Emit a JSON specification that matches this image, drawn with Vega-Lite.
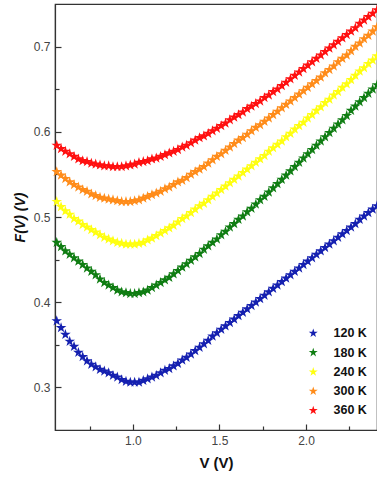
{
"$schema": "https://vega.github.io/schema/vega-lite/v6.json",
"width": 322,
"height": 426,
"autosize": {"type": "none"},
"padding": {"left": 55, "top": 4, "right": 0, "bottom": 47},
"background": "white",
"config": {
  "font": "Liberation Sans",
  "view": {"stroke": "#333", "strokeWidth": 1.2},
  "axis": {"domainColor": "#333", "tickColor": "#333", "labelColor": "#444", "labelFontSize": 12, "titleFontSize": 14, "titleFontWeight": "bold", "titleColor": "#111", "grid": false, "domainWidth": 1.2, "tickWidth": 1.2}
},
"data": {"values": [
{"T":"120 K","V":0.56,"F":0.378},{"T":"120 K","V":0.585,"F":0.370},{"T":"120 K","V":0.61,"F":0.362},{"T":"120 K","V":0.635,"F":0.354},{"T":"120 K","V":0.66,"F":0.348},{"T":"120 K","V":0.685,"F":0.341},{"T":"120 K","V":0.71,"F":0.336},{"T":"120 K","V":0.735,"F":0.331},{"T":"120 K","V":0.76,"F":0.327},{"T":"120 K","V":0.785,"F":0.324},{"T":"120 K","V":0.81,"F":0.321},{"T":"120 K","V":0.835,"F":0.319},{"T":"120 K","V":0.86,"F":0.317},{"T":"120 K","V":0.885,"F":0.314},{"T":"120 K","V":0.91,"F":0.312},{"T":"120 K","V":0.935,"F":0.309},{"T":"120 K","V":0.96,"F":0.307},{"T":"120 K","V":0.985,"F":0.306},{"T":"120 K","V":1.01,"F":0.306},{"T":"120 K","V":1.035,"F":0.306},{"T":"120 K","V":1.06,"F":0.308},{"T":"120 K","V":1.085,"F":0.310},{"T":"120 K","V":1.11,"F":0.312},{"T":"120 K","V":1.135,"F":0.314},{"T":"120 K","V":1.16,"F":0.317},{"T":"120 K","V":1.185,"F":0.320},{"T":"120 K","V":1.21,"F":0.322},{"T":"120 K","V":1.235,"F":0.325},{"T":"120 K","V":1.26,"F":0.328},{"T":"120 K","V":1.285,"F":0.332},{"T":"120 K","V":1.31,"F":0.335},{"T":"120 K","V":1.335,"F":0.339},{"T":"120 K","V":1.36,"F":0.343},{"T":"120 K","V":1.385,"F":0.347},{"T":"120 K","V":1.41,"F":0.351},{"T":"120 K","V":1.435,"F":0.355},{"T":"120 K","V":1.46,"F":0.360},{"T":"120 K","V":1.485,"F":0.364},{"T":"120 K","V":1.51,"F":0.368},{"T":"120 K","V":1.535,"F":0.372},{"T":"120 K","V":1.56,"F":0.376},{"T":"120 K","V":1.585,"F":0.380},{"T":"120 K","V":1.61,"F":0.384},{"T":"120 K","V":1.635,"F":0.388},{"T":"120 K","V":1.66,"F":0.392},{"T":"120 K","V":1.685,"F":0.396},{"T":"120 K","V":1.71,"F":0.400},{"T":"120 K","V":1.735,"F":0.404},{"T":"120 K","V":1.76,"F":0.408},{"T":"120 K","V":1.785,"F":0.412},{"T":"120 K","V":1.81,"F":0.416},{"T":"120 K","V":1.835,"F":0.420},{"T":"120 K","V":1.86,"F":0.424},{"T":"120 K","V":1.885,"F":0.428},{"T":"120 K","V":1.91,"F":0.432},{"T":"120 K","V":1.935,"F":0.436},{"T":"120 K","V":1.96,"F":0.440},{"T":"120 K","V":1.985,"F":0.444},{"T":"120 K","V":2.01,"F":0.448},{"T":"120 K","V":2.035,"F":0.452},{"T":"120 K","V":2.06,"F":0.456},{"T":"120 K","V":2.085,"F":0.460},{"T":"120 K","V":2.11,"F":0.464},{"T":"120 K","V":2.135,"F":0.468},{"T":"120 K","V":2.16,"F":0.472},{"T":"120 K","V":2.185,"F":0.476},{"T":"120 K","V":2.21,"F":0.480},{"T":"120 K","V":2.235,"F":0.484},{"T":"120 K","V":2.26,"F":0.488},{"T":"120 K","V":2.285,"F":0.492},{"T":"120 K","V":2.31,"F":0.497},{"T":"120 K","V":2.335,"F":0.501},{"T":"120 K","V":2.36,"F":0.505},{"T":"120 K","V":2.385,"F":0.509},{"T":"120 K","V":2.41,"F":0.513},
{"T":"180 K","V":0.56,"F":0.470},{"T":"180 K","V":0.585,"F":0.465},{"T":"180 K","V":0.61,"F":0.460},{"T":"180 K","V":0.635,"F":0.456},{"T":"180 K","V":0.66,"F":0.452},{"T":"180 K","V":0.685,"F":0.448},{"T":"180 K","V":0.71,"F":0.444},{"T":"180 K","V":0.735,"F":0.440},{"T":"180 K","V":0.76,"F":0.436},{"T":"180 K","V":0.785,"F":0.432},{"T":"180 K","V":0.81,"F":0.427},{"T":"180 K","V":0.835,"F":0.423},{"T":"180 K","V":0.86,"F":0.420},{"T":"180 K","V":0.885,"F":0.417},{"T":"180 K","V":0.91,"F":0.414},{"T":"180 K","V":0.935,"F":0.412},{"T":"180 K","V":0.96,"F":0.411},{"T":"180 K","V":0.985,"F":0.410},{"T":"180 K","V":1.01,"F":0.410},{"T":"180 K","V":1.035,"F":0.411},{"T":"180 K","V":1.06,"F":0.412},{"T":"180 K","V":1.085,"F":0.414},{"T":"180 K","V":1.11,"F":0.417},{"T":"180 K","V":1.135,"F":0.420},{"T":"180 K","V":1.16,"F":0.423},{"T":"180 K","V":1.185,"F":0.426},{"T":"180 K","V":1.21,"F":0.429},{"T":"180 K","V":1.235,"F":0.433},{"T":"180 K","V":1.26,"F":0.437},{"T":"180 K","V":1.285,"F":0.441},{"T":"180 K","V":1.31,"F":0.445},{"T":"180 K","V":1.335,"F":0.449},{"T":"180 K","V":1.36,"F":0.453},{"T":"180 K","V":1.385,"F":0.457},{"T":"180 K","V":1.41,"F":0.462},{"T":"180 K","V":1.435,"F":0.466},{"T":"180 K","V":1.46,"F":0.470},{"T":"180 K","V":1.485,"F":0.474},{"T":"180 K","V":1.51,"F":0.479},{"T":"180 K","V":1.535,"F":0.483},{"T":"180 K","V":1.56,"F":0.488},{"T":"180 K","V":1.585,"F":0.492},{"T":"180 K","V":1.61,"F":0.497},{"T":"180 K","V":1.635,"F":0.501},{"T":"180 K","V":1.66,"F":0.506},{"T":"180 K","V":1.685,"F":0.510},{"T":"180 K","V":1.71,"F":0.515},{"T":"180 K","V":1.735,"F":0.520},{"T":"180 K","V":1.76,"F":0.524},{"T":"180 K","V":1.785,"F":0.529},{"T":"180 K","V":1.81,"F":0.534},{"T":"180 K","V":1.835,"F":0.539},{"T":"180 K","V":1.86,"F":0.544},{"T":"180 K","V":1.885,"F":0.549},{"T":"180 K","V":1.91,"F":0.554},{"T":"180 K","V":1.935,"F":0.559},{"T":"180 K","V":1.96,"F":0.564},{"T":"180 K","V":1.985,"F":0.569},{"T":"180 K","V":2.01,"F":0.574},{"T":"180 K","V":2.035,"F":0.579},{"T":"180 K","V":2.06,"F":0.584},{"T":"180 K","V":2.085,"F":0.589},{"T":"180 K","V":2.11,"F":0.594},{"T":"180 K","V":2.135,"F":0.599},{"T":"180 K","V":2.16,"F":0.604},{"T":"180 K","V":2.185,"F":0.609},{"T":"180 K","V":2.21,"F":0.614},{"T":"180 K","V":2.235,"F":0.619},{"T":"180 K","V":2.26,"F":0.625},{"T":"180 K","V":2.285,"F":0.630},{"T":"180 K","V":2.31,"F":0.635},{"T":"180 K","V":2.335,"F":0.640},{"T":"180 K","V":2.36,"F":0.645},{"T":"180 K","V":2.385,"F":0.650},{"T":"180 K","V":2.41,"F":0.655},
{"T":"240 K","V":0.56,"F":0.518},{"T":"240 K","V":0.585,"F":0.512},{"T":"240 K","V":0.61,"F":0.507},{"T":"240 K","V":0.635,"F":0.503},{"T":"240 K","V":0.66,"F":0.498},{"T":"240 K","V":0.685,"F":0.495},{"T":"240 K","V":0.71,"F":0.491},{"T":"240 K","V":0.735,"F":0.488},{"T":"240 K","V":0.76,"F":0.485},{"T":"240 K","V":0.785,"F":0.482},{"T":"240 K","V":0.81,"F":0.479},{"T":"240 K","V":0.835,"F":0.476},{"T":"240 K","V":0.86,"F":0.474},{"T":"240 K","V":0.885,"F":0.472},{"T":"240 K","V":0.91,"F":0.470},{"T":"240 K","V":0.935,"F":0.469},{"T":"240 K","V":0.96,"F":0.468},{"T":"240 K","V":0.985,"F":0.468},{"T":"240 K","V":1.01,"F":0.468},{"T":"240 K","V":1.035,"F":0.469},{"T":"240 K","V":1.06,"F":0.470},{"T":"240 K","V":1.085,"F":0.473},{"T":"240 K","V":1.11,"F":0.475},{"T":"240 K","V":1.135,"F":0.478},{"T":"240 K","V":1.16,"F":0.481},{"T":"240 K","V":1.185,"F":0.484},{"T":"240 K","V":1.21,"F":0.487},{"T":"240 K","V":1.235,"F":0.490},{"T":"240 K","V":1.26,"F":0.494},{"T":"240 K","V":1.285,"F":0.498},{"T":"240 K","V":1.31,"F":0.501},{"T":"240 K","V":1.335,"F":0.505},{"T":"240 K","V":1.36,"F":0.509},{"T":"240 K","V":1.385,"F":0.513},{"T":"240 K","V":1.41,"F":0.516},{"T":"240 K","V":1.435,"F":0.520},{"T":"240 K","V":1.46,"F":0.524},{"T":"240 K","V":1.485,"F":0.528},{"T":"240 K","V":1.51,"F":0.532},{"T":"240 K","V":1.535,"F":0.536},{"T":"240 K","V":1.56,"F":0.540},{"T":"240 K","V":1.585,"F":0.544},{"T":"240 K","V":1.61,"F":0.548},{"T":"240 K","V":1.635,"F":0.552},{"T":"240 K","V":1.66,"F":0.556},{"T":"240 K","V":1.685,"F":0.560},{"T":"240 K","V":1.71,"F":0.564},{"T":"240 K","V":1.735,"F":0.568},{"T":"240 K","V":1.76,"F":0.572},{"T":"240 K","V":1.785,"F":0.577},{"T":"240 K","V":1.81,"F":0.581},{"T":"240 K","V":1.835,"F":0.585},{"T":"240 K","V":1.86,"F":0.589},{"T":"240 K","V":1.885,"F":0.594},{"T":"240 K","V":1.91,"F":0.598},{"T":"240 K","V":1.935,"F":0.603},{"T":"240 K","V":1.96,"F":0.607},{"T":"240 K","V":1.985,"F":0.611},{"T":"240 K","V":2.01,"F":0.616},{"T":"240 K","V":2.035,"F":0.620},{"T":"240 K","V":2.06,"F":0.625},{"T":"240 K","V":2.085,"F":0.629},{"T":"240 K","V":2.11,"F":0.634},{"T":"240 K","V":2.135,"F":0.638},{"T":"240 K","V":2.16,"F":0.643},{"T":"240 K","V":2.185,"F":0.647},{"T":"240 K","V":2.21,"F":0.652},{"T":"240 K","V":2.235,"F":0.656},{"T":"240 K","V":2.26,"F":0.661},{"T":"240 K","V":2.285,"F":0.666},{"T":"240 K","V":2.31,"F":0.671},{"T":"240 K","V":2.335,"F":0.675},{"T":"240 K","V":2.36,"F":0.680},{"T":"240 K","V":2.385,"F":0.684},{"T":"240 K","V":2.41,"F":0.689},
{"T":"300 K","V":0.56,"F":0.553},{"T":"300 K","V":0.585,"F":0.549},{"T":"300 K","V":0.61,"F":0.545},{"T":"300 K","V":0.635,"F":0.541},{"T":"300 K","V":0.66,"F":0.538},{"T":"300 K","V":0.685,"F":0.535},{"T":"300 K","V":0.71,"F":0.532},{"T":"300 K","V":0.735,"F":0.530},{"T":"300 K","V":0.76,"F":0.527},{"T":"300 K","V":0.785,"F":0.525},{"T":"300 K","V":0.81,"F":0.523},{"T":"300 K","V":0.835,"F":0.522},{"T":"300 K","V":0.86,"F":0.521},{"T":"300 K","V":0.885,"F":0.520},{"T":"300 K","V":0.91,"F":0.519},{"T":"300 K","V":0.935,"F":0.518},{"T":"300 K","V":0.96,"F":0.518},{"T":"300 K","V":0.985,"F":0.518},{"T":"300 K","V":1.01,"F":0.519},{"T":"300 K","V":1.035,"F":0.520},{"T":"300 K","V":1.06,"F":0.522},{"T":"300 K","V":1.085,"F":0.524},{"T":"300 K","V":1.11,"F":0.526},{"T":"300 K","V":1.135,"F":0.528},{"T":"300 K","V":1.16,"F":0.530},{"T":"300 K","V":1.185,"F":0.533},{"T":"300 K","V":1.21,"F":0.535},{"T":"300 K","V":1.235,"F":0.538},{"T":"300 K","V":1.26,"F":0.541},{"T":"300 K","V":1.285,"F":0.543},{"T":"300 K","V":1.31,"F":0.546},{"T":"300 K","V":1.335,"F":0.550},{"T":"300 K","V":1.36,"F":0.553},{"T":"300 K","V":1.385,"F":0.556},{"T":"300 K","V":1.41,"F":0.559},{"T":"300 K","V":1.435,"F":0.563},{"T":"300 K","V":1.46,"F":0.567},{"T":"300 K","V":1.485,"F":0.571},{"T":"300 K","V":1.51,"F":0.574},{"T":"300 K","V":1.535,"F":0.578},{"T":"300 K","V":1.56,"F":0.582},{"T":"300 K","V":1.585,"F":0.586},{"T":"300 K","V":1.61,"F":0.590},{"T":"300 K","V":1.635,"F":0.593},{"T":"300 K","V":1.66,"F":0.597},{"T":"300 K","V":1.685,"F":0.601},{"T":"300 K","V":1.71,"F":0.605},{"T":"300 K","V":1.735,"F":0.608},{"T":"300 K","V":1.76,"F":0.612},{"T":"300 K","V":1.785,"F":0.616},{"T":"300 K","V":1.81,"F":0.620},{"T":"300 K","V":1.835,"F":0.624},{"T":"300 K","V":1.86,"F":0.628},{"T":"300 K","V":1.885,"F":0.632},{"T":"300 K","V":1.91,"F":0.636},{"T":"300 K","V":1.935,"F":0.640},{"T":"300 K","V":1.96,"F":0.644},{"T":"300 K","V":1.985,"F":0.648},{"T":"300 K","V":2.01,"F":0.652},{"T":"300 K","V":2.035,"F":0.656},{"T":"300 K","V":2.06,"F":0.660},{"T":"300 K","V":2.085,"F":0.664},{"T":"300 K","V":2.11,"F":0.669},{"T":"300 K","V":2.135,"F":0.673},{"T":"300 K","V":2.16,"F":0.677},{"T":"300 K","V":2.185,"F":0.682},{"T":"300 K","V":2.21,"F":0.686},{"T":"300 K","V":2.235,"F":0.690},{"T":"300 K","V":2.26,"F":0.695},{"T":"300 K","V":2.285,"F":0.700},{"T":"300 K","V":2.31,"F":0.704},{"T":"300 K","V":2.335,"F":0.709},{"T":"300 K","V":2.36,"F":0.713},{"T":"300 K","V":2.385,"F":0.718},{"T":"300 K","V":2.41,"F":0.723},
{"T":"360 K","V":0.56,"F":0.584},{"T":"360 K","V":0.585,"F":0.580},{"T":"360 K","V":0.61,"F":0.577},{"T":"360 K","V":0.635,"F":0.574},{"T":"360 K","V":0.66,"F":0.571},{"T":"360 K","V":0.685,"F":0.568},{"T":"360 K","V":0.71,"F":0.566},{"T":"360 K","V":0.735,"F":0.565},{"T":"360 K","V":0.76,"F":0.563},{"T":"360 K","V":0.785,"F":0.562},{"T":"360 K","V":0.81,"F":0.561},{"T":"360 K","V":0.835,"F":0.560},{"T":"360 K","V":0.86,"F":0.560},{"T":"360 K","V":0.885,"F":0.559},{"T":"360 K","V":0.91,"F":0.559},{"T":"360 K","V":0.935,"F":0.559},{"T":"360 K","V":0.96,"F":0.560},{"T":"360 K","V":0.985,"F":0.561},{"T":"360 K","V":1.01,"F":0.562},{"T":"360 K","V":1.035,"F":0.564},{"T":"360 K","V":1.06,"F":0.565},{"T":"360 K","V":1.085,"F":0.566},{"T":"360 K","V":1.11,"F":0.568},{"T":"360 K","V":1.135,"F":0.569},{"T":"360 K","V":1.16,"F":0.571},{"T":"360 K","V":1.185,"F":0.573},{"T":"360 K","V":1.21,"F":0.575},{"T":"360 K","V":1.235,"F":0.577},{"T":"360 K","V":1.26,"F":0.579},{"T":"360 K","V":1.285,"F":0.582},{"T":"360 K","V":1.31,"F":0.584},{"T":"360 K","V":1.335,"F":0.587},{"T":"360 K","V":1.36,"F":0.590},{"T":"360 K","V":1.385,"F":0.593},{"T":"360 K","V":1.41,"F":0.595},{"T":"360 K","V":1.435,"F":0.598},{"T":"360 K","V":1.46,"F":0.601},{"T":"360 K","V":1.485,"F":0.604},{"T":"360 K","V":1.51,"F":0.607},{"T":"360 K","V":1.535,"F":0.610},{"T":"360 K","V":1.56,"F":0.614},{"T":"360 K","V":1.585,"F":0.617},{"T":"360 K","V":1.61,"F":0.620},{"T":"360 K","V":1.635,"F":0.623},{"T":"360 K","V":1.66,"F":0.627},{"T":"360 K","V":1.685,"F":0.630},{"T":"360 K","V":1.71,"F":0.633},{"T":"360 K","V":1.735,"F":0.636},{"T":"360 K","V":1.76,"F":0.640},{"T":"360 K","V":1.785,"F":0.643},{"T":"360 K","V":1.81,"F":0.647},{"T":"360 K","V":1.835,"F":0.650},{"T":"360 K","V":1.86,"F":0.654},{"T":"360 K","V":1.885,"F":0.658},{"T":"360 K","V":1.91,"F":0.662},{"T":"360 K","V":1.935,"F":0.666},{"T":"360 K","V":1.96,"F":0.670},{"T":"360 K","V":1.985,"F":0.674},{"T":"360 K","V":2.01,"F":0.678},{"T":"360 K","V":2.035,"F":0.682},{"T":"360 K","V":2.06,"F":0.686},{"T":"360 K","V":2.085,"F":0.690},{"T":"360 K","V":2.11,"F":0.694},{"T":"360 K","V":2.135,"F":0.698},{"T":"360 K","V":2.16,"F":0.702},{"T":"360 K","V":2.185,"F":0.706},{"T":"360 K","V":2.21,"F":0.710},{"T":"360 K","V":2.235,"F":0.714},{"T":"360 K","V":2.26,"F":0.718},{"T":"360 K","V":2.285,"F":0.722},{"T":"360 K","V":2.31,"F":0.727},{"T":"360 K","V":2.335,"F":0.731},{"T":"360 K","V":2.36,"F":0.735},{"T":"360 K","V":2.385,"F":0.739},{"T":"360 K","V":2.41,"F":0.743}
]},
"mark": {"type": "point", "filled": true, "opacity": 1, "size": 125, "shape": "M0,-1L0.2245,-0.309L0.951,-0.309L0.363,0.118L0.588,0.809L0,0.382L-0.588,0.809L-0.363,0.118L-0.951,-0.309L-0.2245,-0.309Z"},
"encoding": {
  "x": {"field": "V", "type": "quantitative", "scale": {"domain": [0.55, 2.41], "nice": false, "zero": false},
    "axis": {"title": "V (V)", "titleFontSize": 15, "values": [0.75, 1.0, 1.25, 1.5, 1.75, 2.0, 2.25],
      "labelExpr": "abs(datum.value*2 - round(datum.value*2)) < 0.01 ? format(datum.value, '.1f') : ''",
      "tickSize": {"condition": {"test": "abs(datum.value*2 - round(datum.value*2)) < 0.01", "value": -6}, "value": -4},
      "labelPadding": 11, "titlePadding": 9, "labelFlush": false}},
  "y": {"field": "F", "type": "quantitative", "scale": {"domain": [0.25, 0.75], "nice": false, "zero": false},
    "axis": {"title": "F(V) (V)", "titleFontStyle": "italic", "values": [0.3, 0.35, 0.4, 0.45, 0.5, 0.55, 0.6, 0.65, 0.7],
      "labelExpr": "abs(datum.value*10 - round(datum.value*10)) < 0.01 ? format(datum.value, '.1f') : ''",
      "tickSize": {"condition": {"test": "abs(datum.value*10 - round(datum.value*10)) < 0.01", "value": -6}, "value": -4},
      "labelPadding": 11, "titlePadding": 6}},
  "color": {"field": "T", "type": "nominal",
    "scale": {"domain": ["120 K", "180 K", "240 K", "300 K", "360 K"], "range": ["#1520b0", "#0f7d12", "#ffff10", "#ff8c1a", "#ff1010"]},
    "legend": {"title": null, "orient": "none", "legendX": 252, "legendY": 323, "symbolType": "M0,-1L0.2245,-0.309L0.951,-0.309L0.363,0.118L0.588,0.809L0,0.382L-0.588,0.809L-0.363,0.118L-0.951,-0.309L-0.2245,-0.309Z", "symbolSize": 90, "symbolStrokeWidth": 0, "labelFontSize": 12.5, "labelFontWeight": "bold", "labelColor": "#111", "labelOffset": 14, "rowPadding": 6.3}}
}
}
